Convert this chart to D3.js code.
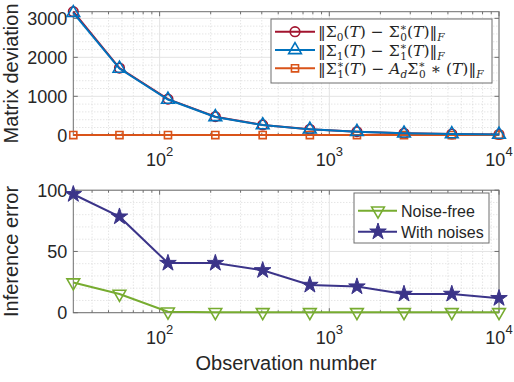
<!DOCTYPE html>
<html>
<head>
<meta charset="utf-8">
<script src="https://cdn.jsdelivr.net/npm/d3@7"></script>
<style>
  body { margin: 0; background: #fff; }
  svg { display: block; font-family: "Liberation Sans", Arial, sans-serif; }
</style>
</head>
<body>
<svg id="chart" width="514" height="382"></svg>
<script>
// observation numbers (log x axis)
const obs = [31, 58, 112, 213, 405, 768, 1455, 2755, 5270, 10000];

// top panel: matrix deviation
const dev0 = [3170, 1725, 928, 478, 266, 155, 93, 52, 33, 20];
const dev1 = [3140, 1712, 918, 470, 262, 152, 91, 50, 32, 19];
const devA = [6, 6, 6, 6, 6, 6, 6, 6, 6, 6];

// bottom panel: inference error
const noiseFree = [24.6, 15.3, 0.8, 0.4, 0.3, 0.3, 0.3, 0.3, 0.3, 0.3];
const withNoise = [96.7, 78.4, 40.5, 40.5, 34.6, 22.6, 21.3, 15.3, 15.3, 11.8];

const topTicks = [0, 1000, 2000, 3000];
const botTicks = [0, 50, 100];
const xTicks = [100, 1000, 10000];

// legend labels, tokens: [text, mode] ; n normal, i italic, sb sub, sbi sub italic, sp sup, st sub stacked under sup
const legTop = [
  [["‖Σ","n"],["0","sb"],["(","n"],["T","i"],[") − Σ","n"],["∗","sp"],["0","st"],["(","n"],["T","i"],[")‖","n"],["F","sbi"]],
  [["‖Σ","n"],["1","sb"],["(","n"],["T","i"],[") − Σ","n"],["∗","sp"],["1","st"],["(","n"],["T","i"],[")‖","n"],["F","sbi"]],
  [["‖Σ","n"],["∗","sp"],["1","st"],["(","n"],["T","i"],[") − ","n"],["A","i"],["d","sbi"],["Σ","n"],["∗","sp"],["0","st"],[" ∗ (","n"],["T","i"],[")‖","n"],["F","sbi"]]
];
const legBot = ["Noise-free", "With noises"];

const colRed = "#A2142F", colBlue = "#0072BD", colOrange = "#D95319";
const colGreen = "#77AC30", colPurple = "#3B3489";
const txt = "#262626";

const svg = d3.select("#chart");
const left = 73.3, right = 499;

const x = d3.scaleLog().domain([31, 10000]).range([left, right]);
const yTop = d3.scaleLinear().domain([0, 3170]).range([135.3, 11.7]);
const yBot = d3.scaleLinear().domain([0, 100]).range([312.7, 190.2]);

function minorLog() {
  const out = [];
  [10, 100, 1000].forEach(b => { for (let k = 2; k <= 9; k++) { const v = b * k; if (v > 31 && v < 10000) out.push(v); } });
  return out;
}

function panel(y, majors, minorStep, yLabel) {
  const g = svg.append("g");
  const [y0, y1] = y.range();
  const ymax = y.domain()[1];
  const yMinor = d3.range(0, ymax, minorStep).filter(v => majors.indexOf(v) < 0 && v > 0);

  // minor grid
  g.selectAll(".gxm").data(minorLog()).enter().append("line")
    .attr("x1", d => x(d)).attr("x2", d => x(d)).attr("y1", y0).attr("y2", y1)
    .attr("stroke", "#d0d0d0").attr("stroke-dasharray", "1,2").attr("stroke-width", 0.8);
  g.selectAll(".gym").data(yMinor).enter().append("line")
    .attr("x1", left).attr("x2", right).attr("y1", d => y(d)).attr("y2", d => y(d))
    .attr("stroke", "#d0d0d0").attr("stroke-dasharray", "1,2").attr("stroke-width", 0.8);
  // major grid
  g.selectAll(".gx").data(xTicks).enter().append("line")
    .attr("x1", d => x(d)).attr("x2", d => x(d)).attr("y1", y0).attr("y2", y1)
    .attr("stroke", "#e3e3e3");
  g.selectAll(".gy").data(majors).enter().append("line")
    .attr("x1", left).attr("x2", right).attr("y1", d => y(d)).attr("y2", d => y(d))
    .attr("stroke", "#e3e3e3");

  // box
  g.append("rect").attr("x", left).attr("y", y1).attr("width", right - left).attr("height", y0 - y1)
    .attr("fill", "none").attr("stroke", "#6e6e6e").attr("stroke-width", 1);

  // ticks inside, all four sides
  const tl = 4.5, tm = 2.5;
  majors.forEach(v => {
    g.append("line").attr("x1", left).attr("x2", left + tl).attr("y1", y(v)).attr("y2", y(v)).attr("stroke", "#6e6e6e");
    g.append("line").attr("x1", right).attr("x2", right - tl).attr("y1", y(v)).attr("y2", y(v)).attr("stroke", "#6e6e6e");
  });
  xTicks.forEach(v => {
    g.append("line").attr("x1", x(v)).attr("x2", x(v)).attr("y1", y0).attr("y2", y0 - tl).attr("stroke", "#6e6e6e");
    g.append("line").attr("x1", x(v)).attr("x2", x(v)).attr("y1", y1).attr("y2", y1 + tl).attr("stroke", "#6e6e6e");
  });
  minorLog().forEach(v => {
    g.append("line").attr("x1", x(v)).attr("x2", x(v)).attr("y1", y0).attr("y2", y0 - tm).attr("stroke", "#6e6e6e");
    g.append("line").attr("x1", x(v)).attr("x2", x(v)).attr("y1", y1).attr("y2", y1 + tm).attr("stroke", "#6e6e6e");
  });

  // y tick labels
  g.selectAll(".yl").data(majors).enter().append("text")
    .attr("x", left - 6).attr("y", d => y(d) + 6.5)
    .attr("text-anchor", "end").attr("font-size", 18).attr("fill", txt)
    .text(d => d);

  // x tick labels 10^k
  xTicks.forEach(v => {
    const t = g.append("text").attr("x", x(v)).attr("y", y0 + 31)
      .attr("text-anchor", "middle").attr("font-size", 18).attr("fill", txt);
    t.append("tspan").text("10");
    t.append("tspan").attr("dy", -10).attr("font-size", 13).text(Math.round(Math.log10(v)));
  });

  // y label
  g.append("text")
    .attr("transform", `translate(18,${(y0 + y1) / 2}) rotate(-90)`)
    .attr("text-anchor", "middle").attr("font-size", 20).attr("fill", txt)
    .text(yLabel);
  return g;
}

function series(g, y, vals, color, sym, opts) {
  const line = d3.line().x((d, i) => x(obs[i])).y(d => y(d));
  g.append("path").datum(vals).attr("d", line)
    .attr("fill", "none").attr("stroke", color).attr("stroke-width", 2);
  drawMarkers(g, vals.map((d, i) => [x(obs[i]), y(d)]), color, sym, opts);
}

function drawMarkers(g, pts, color, sym, opts) {
  g.selectAll(null).data(pts).enter().append("path")
    .attr("transform", d => `translate(${d[0]},${d[1]})${opts.rot ? " rotate(180)" : ""}`)
    .attr("d", d3.symbol().type(sym).size(opts.size))
    .attr("fill", opts.fill ? color : "none")
    .attr("stroke", color).attr("stroke-width", opts.sw || 1.6);
}

const mCircle = { size: 72, sw: 1.6 };
const mTri = { size: 70, sw: 1.6 };
const mSq = { size: 50, sw: 1.6 };
const mTriDown = { size: 70, sw: 1.6, rot: true };
const mStar = { size: 85, sw: 1, fill: true };

// top panel
const gTop = panel(yTop, topTicks, 200, "Matrix deviation");
series(gTop, yTop, dev0, colRed, d3.symbolCircle, mCircle);
series(gTop, yTop, devA, colOrange, d3.symbolSquare, mSq);
series(gTop, yTop, dev1, colBlue, d3.symbolTriangle, mTri);

// bottom panel
const gBot = panel(yBot, botTicks, 10, "Inference error");
series(gBot, yBot, withNoise, colPurple, d3.symbolStar, mStar);
series(gBot, yBot, noiseFree, colGreen, d3.symbolTriangle, mTriDown);

svg.append("text").attr("x", (left + right) / 2).attr("y", 370)
  .attr("text-anchor", "middle").attr("font-size", 20).attr("fill", txt)
  .text("Observation number");

// top legend
const lt = svg.append("g");
lt.append("rect").attr("x", 271).attr("y", 19).attr("width", 221).attr("height", 64)
  .attr("fill", "#fff").attr("stroke", "#6e6e6e");
const topCols = [colRed, colBlue, colOrange];
const topSyms = [[d3.symbolCircle, mCircle], [d3.symbolTriangle, mTri], [d3.symbolSquare, mSq]];
legTop.forEach((toks, i) => {
  const yy = 31.7 + i * 18.3;
  lt.append("line").attr("x1", 275).attr("x2", 315).attr("y1", yy).attr("y2", yy)
    .attr("stroke", topCols[i]).attr("stroke-width", 2);
  drawMarkers(lt, [[295, yy]], topCols[i], topSyms[i][0], topSyms[i][1]);
  const t = lt.append("text").attr("x", 318).attr("y", yy + 5.5)
    .attr("font-family", "'DejaVu Serif', serif")
    .attr("font-size", 15.5).attr("fill", txt);
  let shift = 0;
  toks.forEach(([s, m]) => {
    const sp = t.append("tspan").text(s);
    let target = 0;
    if (m === "i") sp.attr("font-style", "italic");
    if (m === "sb" || m === "sbi" || m === "st") { target = 4; sp.attr("font-size", 10.5); }
    if (m === "sbi") sp.attr("font-style", "italic");
    if (m === "sp") { target = -6; sp.attr("font-size", 10.5); }
    if (m === "st") sp.attr("dx", -6.5);
    sp.attr("dy", target - shift);
    shift = target;
  });
});

// bottom legend
const lb = svg.append("g");
lb.append("rect").attr("x", 354).attr("y", 193).attr("width", 135).attr("height", 50)
  .attr("fill", "#fff").attr("stroke", "#6e6e6e");
const botCols = [colGreen, colPurple];
const botSyms = [[d3.symbolTriangle, mTriDown], [d3.symbolStar, mStar]];
legBot.forEach((s, i) => {
  const yy = 210.7 + i * 21;
  lb.append("line").attr("x1", 358).attr("x2", 397).attr("y1", yy).attr("y2", yy)
    .attr("stroke", botCols[i]).attr("stroke-width", 2);
  drawMarkers(lb, [[378, yy]], botCols[i], botSyms[i][0], botSyms[i][1]);
  lb.append("text").attr("x", 401).attr("y", yy + 6)
    .attr("font-size", 16).attr("fill", txt).text(s);
});
</script>
</body>
</html>
